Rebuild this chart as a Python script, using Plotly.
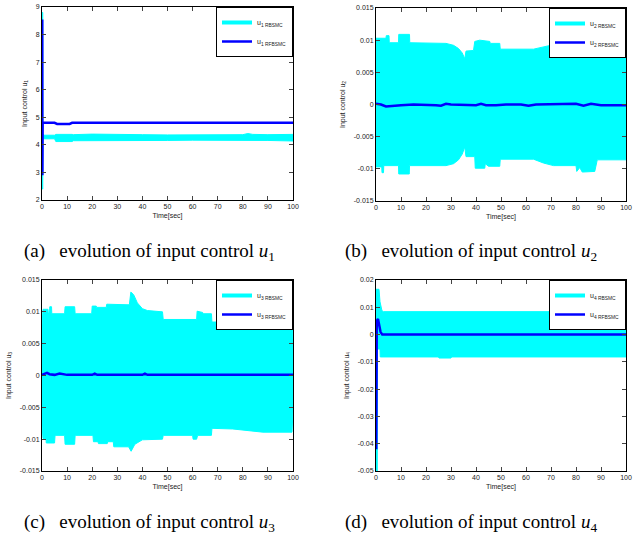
import plotly.graph_objects as go

# ---------------- data ----------------
x_ticks = [0, 10, 20, 30, 40, 50, 60, 70, 80, 90, 100]

# (a) u1
t1_band = [0, 0.3, 0.35, 1, 5, 5.5, 12, 12.5, 20, 30, 40, 50, 60, 70, 80, 82, 84, 90, 100]
u1_rb_hi = [8.8, 8.8, 4.38, 4.35, 4.35, 4.38, 4.38, 4.37, 4.39, 4.37, 4.37, 4.36, 4.37, 4.37, 4.37, 4.41, 4.38, 4.37, 4.38]
u1_rb_lo = [2.4, 2.4, 4.22, 4.22, 4.22, 4.12, 4.12, 4.15, 4.15, 4.14, 4.16, 4.16, 4.17, 4.17, 4.16, 4.16, 4.16, 4.16, 4.14]
t1_rf = [0, 0.1, 0.15, 0.25, 5, 6, 11, 12, 100]
u1_rf = [8.5, 8.5, 2.9, 4.8, 4.8, 4.76, 4.76, 4.8, 4.8]
y1_ticks = [2, 3, 4, 5, 6, 7, 8, 9]
y1_labels = ["2", "3", "4", "5", "6", "7", "8", "9"]

# (b) u2
t2_hi = [0, 4, 4.1, 5.2, 5.3, 9, 9.1, 13.4, 13.5, 28, 31, 33, 34.5, 35.5, 36, 39, 39.5, 41.5, 45.5, 45.7,
         49.5, 49.7, 63, 67, 71, 80, 80.5, 82, 83, 88.5, 89, 100]
u2_rb_hi = [0.0103, 0.0103, 0.0107, 0.0107, 0.0096, 0.0096, 0.0109, 0.0109, 0.0096, 0.0095, 0.0092, 0.0087,
            0.0080, 0.0071, 0.0083, 0.0084, 0.0098, 0.0100, 0.0098, 0.0095, 0.0095, 0.0086, 0.0086, 0.0090,
            0.0093, 0.0093, 0.0101, 0.0096, 0.0101, 0.0100, 0.0085, 0.0085]
t2_lo = [0, 2.3, 2.4, 3, 3.1, 9, 9.1, 13.3, 13.4, 28, 31, 33, 34.5, 35.5, 36, 39.5, 39.7, 43.5, 43.7, 45,
         49.5, 49.7, 63, 67, 71, 80, 80.3, 81.5, 82.5, 87.5, 88.5, 100]
u2_rb_lo = [-0.0097, -0.0097, -0.0106, -0.0106, -0.0095, -0.0095, -0.0108, -0.0108, -0.0095, -0.0095, -0.0092,
            -0.0086, -0.0077, -0.0066, -0.0081, -0.0081, -0.0099, -0.0099, -0.0092, -0.0096, -0.0096, -0.0085,
            -0.0085, -0.0091, -0.0095, -0.0095, -0.0104, -0.0098, -0.0105, -0.0104, -0.0086, -0.0086]
t2_rf = [0, 2, 4, 6, 10, 15, 20, 24, 26, 28, 30, 35, 40, 42, 44, 48, 52, 58, 61, 64, 70, 80, 83, 86, 90, 100]
u2_rf = [0.0001, 0.0, -0.0003, -0.0002, -0.0001, 0.0, 0.0, -0.0001, -0.0002, 0.0001, 0.0, -0.0001, -0.0001,
         0.0001, -0.0001, -0.0001, 0.0, 0.0, -0.0002, 0.0, 0.0, 0.0001, -0.0002, 0.0001, -0.0001, -0.0001]
y2_ticks = [-0.015, -0.01, -0.005, 0, 0.005, 0.01, 0.015]
y2_labels = ["-0.015", "-0.01", "-0.005", "0", "0.005", "0.01", "0.015"]

# (c) u3
t3_hi = [0, 0.4, 2.4, 2.5, 3, 3.1, 3.8, 3.9, 9, 9.2, 13, 13.2, 19.8, 20, 21.6, 21.8, 25.6, 25.8, 34.8, 35.4,
         36.5, 38, 40, 42, 48, 48.3, 61.6, 61.8, 64, 64.2, 67.5, 67.7, 76, 82, 88, 99.6, 100]
u3_rb_hi = [0.0079, 0.0104, 0.0104, 0.0098, 0.0098, 0.0108, 0.0108, 0.0097, 0.0097, 0.0108, 0.0108, 0.0097,
            0.0097, 0.0109, 0.0109, 0.0107, 0.0107, 0.0112, 0.0111, 0.0131, 0.0127, 0.0114, 0.0105, 0.0102,
            0.0100, 0.0088, 0.0088, 0.0101, 0.0099, 0.0097, 0.0097, 0.0084, 0.0084, 0.0087, 0.0090, 0.0090,
            0.0056]
t3_lo = [0, 0.4, 1.6, 1.7, 5, 5.2, 9, 9.2, 13, 13.2, 20.3, 20.5, 22.3, 22.5, 26, 26.2, 28.4, 28.6, 34.5,
         35.5, 37, 40, 48, 48.3, 60, 60.2, 61.6, 62, 67.5, 67.7, 76, 82, 88, 99.6, 100]
u3_rb_lo = [-0.0079, -0.0099, -0.0099, -0.0106, -0.0106, -0.0094, -0.0094, -0.0108, -0.0108, -0.0094, -0.0094,
            -0.0104, -0.0104, -0.0107, -0.0107, -0.0104, -0.0104, -0.0112, -0.0112, -0.0119, -0.0108, -0.0101,
            -0.0100, -0.0094, -0.0094, -0.0100, -0.0100, -0.0094, -0.0094, -0.0083, -0.0084, -0.0087, -0.0089,
            -0.0089, -0.0056]
t3_rf = [0, 1, 2, 3, 5, 7, 8, 10, 20, 21, 22, 30, 40, 41, 42, 50, 60, 61, 62, 70, 80, 81, 82, 90, 100]
u3_rf = [0.0001, 0.0003, 0.0004, 0.0002, 0.0001, 0.0003, 0.0002, 0.0001, 0.0001, 0.0003, 0.0001, 0.0001,
         0.0001, 0.0003, 0.0001, 0.0001, 0.0001, 0.0002, 0.0001, 0.0001, 0.0001, 0.0002, 0.0001, 0.0001, 0.0001]
y3_ticks = y2_ticks
y3_labels = y2_labels

# (d) u4
t4_hi = [0, 1.2, 1.6, 2.0, 2.4, 3, 100]
u4_rb_hi = [0.0166, 0.0166, 0.012, 0.0095, 0.0087, 0.0084, 0.0084]
t4_lo = [0, 0.5, 0.6, 1.6, 1.7, 25, 25.2, 30, 30.2, 100]
u4_rb_lo = [-0.05, -0.05, -0.0053, -0.0053, -0.0082, -0.0082, -0.0086, -0.0086, -0.0082, -0.0082]
t4_rf = [0.1, 0.3, 0.8, 1.3, 1.8, 2.5, 100]
u4_rf = [-0.042, 0.005, 0.0057, 0.0035, 0.001, 0.0, 0.0]
y4_ticks = [-0.05, -0.04, -0.03, -0.02, -0.01, 0, 0.01, 0.02]
y4_labels = ["-0.05", "-0.04", "-0.03", "-0.02", "-0.01", "0", "0.01", "0.02"]

captions = ["(a)\u00a0\u00a0\u00a0evolution of input control <i>u</i><sub>1</sub>",
            "(b)\u00a0\u00a0\u00a0evolution of input control <i>u</i><sub>2</sub>",
            "(c)\u00a0\u00a0\u00a0evolution of input control <i>u</i><sub>3</sub>",
            "(d)\u00a0\u00a0\u00a0evolution of input control <i>u</i><sub>4</sub>"]

# ---------------- layout geometry ----------------
W, H = 637, 537
def px_x(p): return p / W
def px_y(p): return 1 - p / H

panels = [
    dict(n=1, xd=(42, 293), yd=(7, 200), th=t1_band, hi=u1_rb_hi, tl=t1_band, lo=u1_rb_lo,
         tr=t1_rf, rf=u1_rf, yt=y1_ticks, yl=y1_labels, yr=[2, 9], cap_y=252, cap_x=22),
    dict(n=2, xd=(376, 626), yd=(8, 201), th=t2_hi, hi=u2_rb_hi, tl=t2_lo, lo=u2_rb_lo,
         tr=t2_rf, rf=u2_rf, yt=y2_ticks, yl=y2_labels, yr=[-0.015, 0.015], cap_y=252, cap_x=343),
    dict(n=3, xd=(42, 293), yd=(280, 471), th=t3_hi, hi=u3_rb_hi, tl=t3_lo, lo=u3_rb_lo,
         tr=t3_rf, rf=u3_rf, yt=y3_ticks, yl=y3_labels, yr=[-0.015, 0.015], cap_y=523, cap_x=22),
    dict(n=4, xd=(376, 626), yd=(280, 471), th=t4_hi, hi=u4_rb_hi, tl=t4_lo, lo=u4_rb_lo,
         tr=t4_rf, rf=u4_rf, yt=y4_ticks, yl=y4_labels, yr=[-0.05, 0.02], cap_y=523, cap_x=343),
]

CYAN = "#00FFFF"
BLUE = "#0000FF"
AXFONT = dict(family="Liberation Sans, Arial", size=7, color="#222222")

fig = go.Figure()
layout = dict(width=W, height=H, margin=dict(l=0, r=0, t=0, b=0, autoexpand=False),
              paper_bgcolor="white", plot_bgcolor="white", showlegend=True, annotations=[])

for p in panels:
    n = p["n"]
    sx = "" if n == 1 else str(n)
    xa, ya = "x" + sx, "y" + sx
    leg = "legend" + sx
    # chattering band of RBSMC
    fig.add_trace(go.Scatter(x=p["th"], y=p["hi"], mode="lines", line=dict(color=CYAN, width=1),
                             xaxis=xa, yaxis=ya, showlegend=False, hoverinfo="skip", legend=leg))
    fig.add_trace(go.Scatter(x=p["tl"], y=p["lo"], mode="lines", line=dict(color=CYAN, width=1),
                             fill="tonexty", fillcolor=CYAN, legend=leg,
                             xaxis=xa, yaxis=ya, showlegend=False, hoverinfo="skip"))
    # legend entries
    fig.add_trace(go.Scatter(x=[None], y=[None], mode="lines", line=dict(color=CYAN, width=4),
                             name=f"u<sub>{n} RBSMC</sub>", xaxis=xa, yaxis=ya, legend=leg))
    fig.add_trace(go.Scatter(x=p["tr"], y=p["rf"], mode="lines", line=dict(color=BLUE, width=2.5),
                             name=f"u<sub>{n} RFBSMC</sub>", xaxis=xa, yaxis=ya, legend=leg))

    layout["xaxis" + sx] = dict(domain=[px_x(p["xd"][0]), px_x(p["xd"][1])], range=[0, 100],
                                 tickvals=x_ticks, ticks="inside", ticklen=4, mirror="allticks",
                                 showline=True, linecolor="black", linewidth=1, showgrid=False,
                                 zeroline=False, tickfont=AXFONT, anchor=ya, automargin=False,
                                 title=dict(text="Time[sec]", font=AXFONT, standoff=3))
    layout["yaxis" + sx] = dict(domain=[px_y(p["yd"][1]), px_y(p["yd"][0])], range=p["yr"],
                                 tickvals=p["yt"], ticktext=p["yl"], ticks="inside", ticklen=4,
                                 mirror="allticks", showline=True, linecolor="black", linewidth=1,
                                 showgrid=False, zeroline=False, tickfont=AXFONT, anchor=xa,
                                 automargin=False,
                                 title=dict(text=f"Input control u<sub>{n}</sub>", font=AXFONT, standoff=7))
    layout[leg] = dict(x=px_x(p["xd"][1]), y=px_y(p["yd"][0]), xanchor="right", yanchor="top",
                       bgcolor="white", bordercolor="black", borderwidth=1, traceorder="normal",
                       font=dict(family="Liberation Sans, Arial", size=7, color="#222222"),
                       itemwidth=30, tracegroupgap=0)
    layout["annotations"].append(dict(text=captions[n - 1], xref="paper", yref="paper",
                                      x=px_x(p["cap_x"]), y=px_y(p["cap_y"]), xanchor="left",
                                      yanchor="middle", showarrow=False,
                                      font=dict(family="Liberation Serif, Times New Roman", size=19,
                                                color="black")))

fig.update_layout(**layout)
fig.write_html("out.html", config={"displayModeBar": False},
               post_script="document.body.style.margin='0';document.body.style.overflow='hidden';")
